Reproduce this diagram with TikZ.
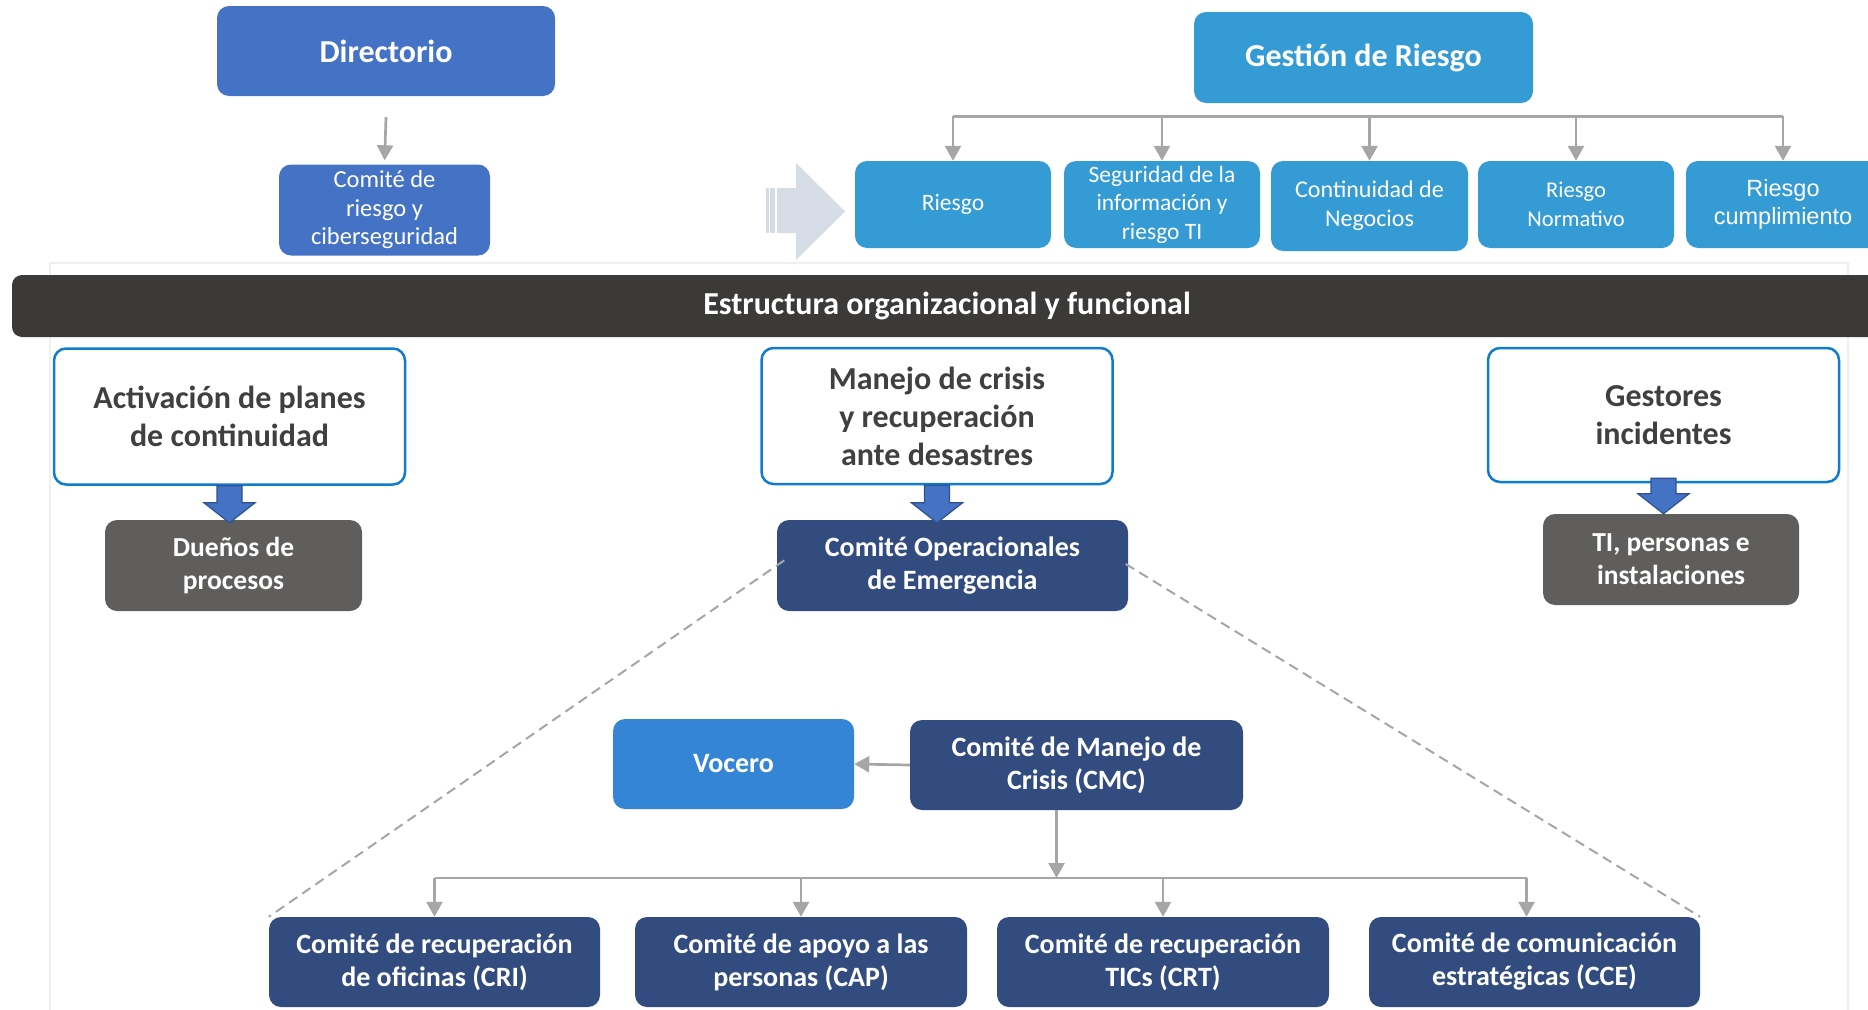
\documentclass[tikz,border=0pt]{standalone}
\usepackage{fontspec}
\setmainfont{Carlito}
\newfontfamily\arialfont{Liberation Sans}
\usetikzlibrary{arrows.meta,calc}

\definecolor{dirblue}{HTML}{4472C4}
\definecolor{riskblue}{HTML}{359BD5}
\definecolor{navy}{HTML}{324C7F}
\definecolor{boxgray}{HTML}{5F5E5C}
\definecolor{bandgray}{HTML}{3B3A38}
\definecolor{voceroblue}{HTML}{3585D7}
\definecolor{linegray}{HTML}{A6A6A6}
\definecolor{frameblue}{HTML}{0F7CCF}
\definecolor{textgray}{HTML}{404040}
\definecolor{arrowedge}{HTML}{2F528F}
\definecolor{paleblue}{HTML}{D6DCE5}
\definecolor{framegray}{HTML}{EFEFEF}

\newcommand{\fsize}[2]{\fontsize{#1}{#2}\selectfont}
% thick blue arrow from the bottom of one box to the top of the next
\newcommand{\blockarrow}[2]{%
  \filldraw[blockarr] ($(#1)+(-12.5,0)$) -- ($(#2)+(-12.5,-20)$) -- ($(#2)+(-25.5,-20)$)
    -- (#2) -- ($(#2)+(25.5,-20)$) -- ($(#2)+(12.5,-20)$) -- ($(#1)+(12.5,0)$) -- cycle;}

\begin{document}
\begin{tikzpicture}[x=1pt, y=-1pt,
    box/.style={rounded corners=12pt, align=center, text=white, inner sep=0pt},
    dims/.style 2 args={minimum width=#1pt, minimum height=#2pt},
    dirbox/.style={box, fill=dirblue},
    riskbox/.style={box, fill=riskblue, font=\fsize{23.5}{28.5}},
    navybox/.style={box, fill=navy, font=\bfseries\fsize{28}{33}},
    graybox/.style={box, fill=boxgray, font=\bfseries\fsize{27.5}{33}},
    planbox/.style={box, draw=frameblue, line width=2.5pt, fill=white, text=textgray,
      font=\bfseries\fsize{32}{38}, dims={351}{136}},
    conn/.style={draw=linegray, line width=2.7pt, -{Triangle[width=16pt,length=15pt]}},
    barline/.style={draw=linegray, line width=2.7pt},
    dashline/.style={draw=linegray, line width=2pt, dash pattern=on 10pt off 6pt},
    blockarr/.style={fill=dirblue, draw=arrowedge, line width=1.2pt, line join=miter}]
  \useasboundingbox (0,0) rectangle (1868,1009);

  % light frame behind the lower part
  \draw[framegray, line width=2pt] (50,1020) -- (50,263) -- (1848,263) -- (1848,1020);

  % upper part
  \node[dirbox, dims={338}{90}, font=\bfseries\fsize{32}{36}] (dir) at (386,51) {Directorio};
  \node[dirbox, dims={211}{91}, font=\fsize{24.5}{28.5}] (crc) at (384.5,210)
    {Comité de\\riesgo y\\ciberseguridad};
  \draw[conn, shorten >=4pt] ([yshift=-21pt]dir.south) -- (crc.north);

  \node[box, fill=riskblue, dims={339}{91}, font=\bfseries\fsize{32}{36}] (gr) at (1363.5,57.5)
    {\raisebox{-2pt}{Gestión de Riesgo}};
  \node[riskbox, dims={196}{87}] (r1) at (953,204.5) {\raisebox{-2pt}{Riesgo}};
  \node[riskbox, dims={196}{87}] (r2) at (1162,204.5) {Seguridad de la\\información y\\riesgo TI};
  \node[riskbox, dims={197}{90}, font=\fsize{24}{29}] (r3) at (1369.5,206) {Continuidad de\\Negocios};
  \node[riskbox, dims={196}{87}, font=\fsize{22.5}{28.5}] (r4) at (1576,204.5) {Riesgo\\Normativo};
  \node[riskbox, dims={194}{87}, font=\arialfont\fsize{23.5}{28.5}] (r5) at (1783,204.5)
    {Riesgo\\cumplimiento};

  \coordinate (grbar) at ($(gr.south)+(0,13)$);
  \draw[barline] (r1 |- grbar) -- (r5 |- grbar);
  \foreach \n in {r1,r2,r3,r4,r5}
    \draw[conn] (\n |- grbar) -- (\n.north);

  % pale arrow pointing at the risk areas
  \fill[paleblue] (766,188) rectangle (768.5,233);
  \fill[paleblue] (770,188) rectangle (775,233);
  \fill[paleblue] (777,188) -- (796,188) -- (796,163) -- (845,211.5) -- (796,260)
    -- (796,233) -- (777,233) -- cycle;

  % banner
  \node[box, fill=bandgray, rounded corners=10pt, dims={1878}{62},
    font=\bfseries\fsize{32}{36}] (band) at (951,306)
    {\hspace*{-8pt}\raisebox{-3pt}{Estructura organizacional y funcional}};

  % three plans
  \node[planbox] (act) at (229.5,416.5) {Activación de planes\\de continuidad};
  \node[planbox] (man) at (937,416) {Manejo de crisis\\y recuperación\\ ante desastres};
  \node[planbox, dims={351}{134}] (ges) at (1663.5,415) {Gestores\\incidentes};

  \node[graybox, dims={257}{91}] (due) at (233.5,565.5) {Dueños de\\procesos};
  \node[navybox, dims={351}{91}] (coe) at (952.5,565.5) {Comité Operacionales\\de Emergencia};
  \node[graybox, dims={256}{91}] (ti) at (1671,559.5) {TI, personas e\\instalaciones};

  \blockarrow{act.south}{$(act.south |- due.north)+(0,3)$}
  \blockarrow{man.south}{$(man.south |- coe.north)+(0,3)$}
  \blockarrow{[yshift=5pt]ges.south}{ges.south |- ti.north}

  % crisis committee
  \node[box, fill=voceroblue, dims={241}{90}, font=\bfseries\fsize{28}{33}] (voc) at (733.5,764) {Vocero};
  \node[navybox, dims={333}{90}] (cmc) at (1076.5,765) {Comité de Manejo de\\Crisis (CMC)};
  \draw[conn] (cmc.west) -- (voc.east);

  \node[navybox, dims={331}{90}] (cri) at (434.5,962) {Comité de recuperación\\de oficinas (CRI)};
  \node[navybox, dims={332}{90}] (cap) at (801,962) {Comité de apoyo a las\\personas (CAP)};
  \node[navybox, dims={332}{90}] (crt) at (1163,962) {Comité de recuperación\\TICs (CRT)};
  \node[navybox, dims={331}{90}] (cce) at (1534.5,962) {Comité de comunicación\\estratégicas (CCE)};

  \coordinate (cmcbar) at (0,878);
  \draw[conn] ([xshift=-20pt]cmc.south) -- ([xshift=-20pt]cmc.south |- cmcbar);
  \draw[barline] (cri |- cmcbar) -- ([xshift=-8pt]cce.north |- cmcbar);
  \foreach \n in {cri,cap,crt}
    \draw[conn] (\n |- cmcbar) -- (\n.north);
  \draw[conn] ([xshift=-8pt]cce.north |- cmcbar) -- ([xshift=-8pt]cce.north);

  % dashed widening lines
  \draw[dashline, shorten <=-9pt] (coe.west) -- (cri.north west);
  \draw[dashline, shorten <=-3pt] (coe.east) -- (cce.north east);
\end{tikzpicture}
\end{document}
